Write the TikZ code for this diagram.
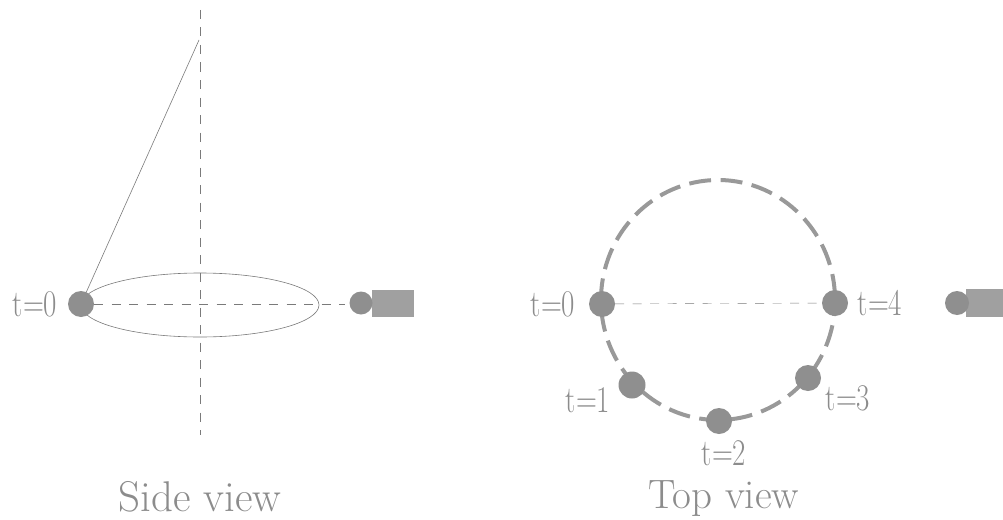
\documentclass[tikz,border=0pt]{standalone}
\definecolor{ballc}{gray}{0.56}
\definecolor{linec}{gray}{0.48}
\definecolor{orbitc}{gray}{0.6}
\definecolor{textc}{gray}{0.55}
\tikzset{
  ball/.style={circle,fill=ballc,draw=none,minimum size=#1,inner sep=0pt},
  sensor/.style={rectangle,fill=ballc!85!white,draw=none,inner sep=0pt},
  thinline/.style={draw=linec,line width=0.6pt},
  axisline/.style={draw=linec,line width=0.5pt,dash pattern=on 9pt off 8.5pt},
  orbit/.style={draw=orbitc,line width=4pt,dash pattern=on 22pt off 9.5pt,dash phase=6pt},
  lab/.style={text=textc,font=\fontsize{29}{29}\selectfont,inner sep=0pt,yscale=1.3,transform shape},
  captext/.style={text=textc,font=\fontsize{41}{41}\selectfont,inner sep=0pt}
}
\begin{document}
\begin{tikzpicture}[x=1pt,y=-1pt]
\useasboundingbox (0,0) rectangle (1003,519);
% side view
\coordinate (axT) at (200,10);
\coordinate (axB) at (200,435);
\coordinate (pivot) at (199,40);
\coordinate (hE) at (345,304);
\draw[thinline] (200,305) ellipse [x radius=119,y radius=32];
\draw[axisline] (axT) -- (axB);
\node[ball=26pt] (s0) at (81,304) {};
\draw[axisline] (s0) -- (hE);
\draw[thinline] (pivot) -- (s0);
\node[sensor,minimum width=42pt,minimum height=27pt] (sr) at (392.5,303.5) {};
\node[ball=23pt] (sb) at (361,303) {};
\node[lab] (l0) at (35,304) {t=0};
\node[captext,font=\fontsize{43}{43}\selectfont] (c1) at (200,497) {Side view};
% top view
\draw[orbit] (718,300) ellipse [x radius=117,y radius=120];
\node[ball=26pt] (a0) at (602,304) {};
\node[ball=26pt] (a4) at (835,303) {};
\draw[axisline,line width=0.4pt] (a0) -- (a4);
\node[ball=27pt] (a1) at (632,385) {};
\node[ball=26pt] (a2) at (719,421) {};
\node[ball=26pt] (a3) at (808,378) {};
\node[lab] at (553,304) (m0) {t=0};
\node[lab] at (880,303) (m4) {t=4};
\node[lab] at (588,400) (m1) {t=1};
\node[lab] at (848,398) (m3) {t=3};
\node[lab] at (724,453) (m2) {t=2};
\node[captext] at (724,499) (c2) {Top view};
\node[sensor,minimum width=37pt,minimum height=28pt] (tr) at (984.5,303) {};
\node[ball=24pt] (tb) at (957,303) {};
\end{tikzpicture}
\end{document}
